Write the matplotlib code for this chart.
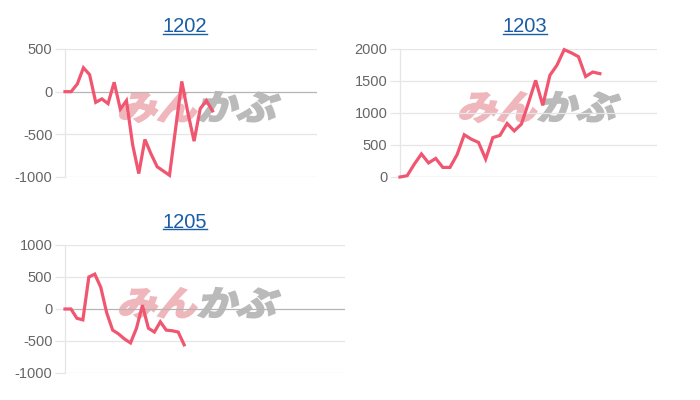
import math
import matplotlib
matplotlib.use('Agg')
import matplotlib.pyplot as plt
from matplotlib.textpath import TextPath
from matplotlib.patches import PathPatch
from matplotlib.font_manager import FontProperties
from matplotlib.transforms import Affine2D
from matplotlib.lines import Line2D

# ---- data ----
titles = ['1202', '1203', '1205']
s1202 = [0, 0, 90, 280, 200, -125, -85, -140, 110, -205, -105, -620, -960,
         -560, -730, -880, -930, -980, -430, 120, -250, -580, -200, -105, -225]
s1203 = [0, 20, 200, 360, 220, 290, 150, 150, 350, 660, 590, 540, 280, 615,
         650, 836, 720, 826, 1160, 1510, 1120, 1590, 1750, 1990, 1940, 1880,
         1570, 1640, 1615]
s1205 = [0, 0, -145, -170, 500, 545, 340, -60, -330, -390, -470, -530, -300,
         60, -300, -360, -200, -330, -340, -360, -560]
series = [s1202, s1203, s1205]
x_slots = [41, 36, 47]
y_ranges = [(-1000, 500), (0, 2000), (-1000, 1000)]
y_ticks = [[-1000, -500, 0, 500], [0, 500, 1000, 1500, 2000],
           [-1000, -500, 0, 500, 1000]]

# ---- layout (pixels, from top-left) ----
W, H = 700, 400
rects = [(65, 49, 317, 177), (400, 49, 657, 177), (65, 245, 345, 373)]
title_pos = [(185, 32), (525, 32), (185, 228)]
wm_boxes = [(118, 92, 282, 122), (458, 92, 622, 122), (118, 288, 282, 318)]

LINE = '#f0566f'
GRID = '#e6e6e6'
ZERO = '#b5b5b5'
TICK = '#666666'
TITLE = '#1a5da6'

fig = plt.figure(figsize=(7, 4), dpi=100)
fig.patch.set_facecolor('white')

# watermark
fp = FontProperties(family='Noto Sans CJK JP', weight='bold')
pa = TextPath((0, 0), 'みん', size=40, prop=fp)
ea = pa.get_extents()
pb = TextPath((ea.x1 + 2, 0), 'かぶ', size=40, prop=fp)
eb = pb.get_extents()
bx0, bx1 = min(ea.x0, eb.x0), max(ea.x1, eb.x1)
by0, by1 = min(ea.y0, eb.y0), max(ea.y1, eb.y1)
for (l, t, r, b) in wm_boxes:
    hh = b - t
    skew = 15
    ww = (r - l) - hh * math.tan(math.radians(skew))
    sx = ww / (bx1 - bx0)
    sy = hh / (by1 - by0)
    tr = (Affine2D().translate(-bx0, -by0).scale(sx, sy)
          .skew_deg(skew, 0).translate(l, H - b))
    fig.add_artist(PathPatch(pa, transform=tr, facecolor='#efb6bb',
                             edgecolor='#efb6bb', lw=1.6, zorder=-1))
    fig.add_artist(PathPatch(pb, transform=tr, facecolor='#bababa',
                             edgecolor='#bababa', lw=1.6, zorder=-1))

title_texts = []
for i, (l, t, r, b) in enumerate(rects):
    ax = fig.add_axes([l / W, 1 - b / H, (r - l) / W, (b - t) / H])
    ax.set_facecolor('none')
    xs = list(range(len(series[i])))
    ax.plot(xs, series[i], color=LINE, lw=2.3, solid_joinstyle='miter',
            zorder=3, clip_on=False)
    ax.set_xlim(0, x_slots[i])
    ax.set_ylim(*y_ranges[i])
    ax.set_yticks(y_ticks[i])
    ax.set_yticklabels([str(v) for v in y_ticks[i]])
    for v in y_ticks[i]:
        ax.axhline(v, color=ZERO if v == 0 else GRID, lw=0.9, zorder=1)
    for sp in ['top', 'right', 'bottom']:
        ax.spines[sp].set_visible(False)
    ax.spines['left'].set_color(GRID)
    ax.spines['left'].set_linewidth(0.9)
    ax.set_xticks([])
    ax.tick_params(axis='y', length=7, width=0.9, color=GRID, pad=2,
                   labelsize=10.5, labelcolor=TICK)
    for lab in ax.get_yticklabels():
        lab.set_family('Liberation Sans')
    tx, ty = title_pos[i]
    tt = fig.text(tx / W, 1 - ty / H, titles[i], ha='center', va='baseline',
                  color=TITLE, fontsize=14.5, family='Liberation Sans')
    title_texts.append(tt)

fig.canvas.draw()
for tt in title_texts:
    bb = tt.get_window_extent()
    y = bb.y0 + 2.5
    fig.add_artist(Line2D([bb.x0 / W, bb.x1 / W], [y / H, y / H],
                          transform=fig.transFigure, color=TITLE, lw=1.0))

fig.savefig('out.png', dpi=100)
